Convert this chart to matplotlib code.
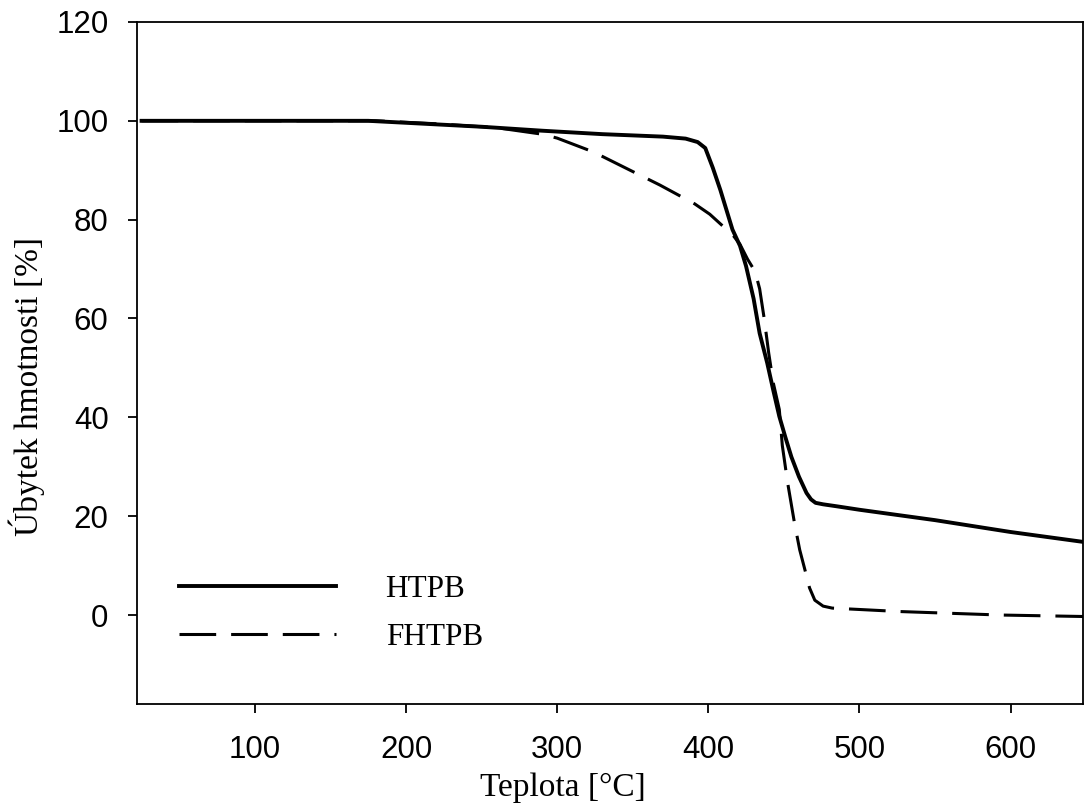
import numpy as np
import matplotlib
matplotlib.use('Agg')
from matplotlib import pyplot as plt

# TGA curves, temperature in degC vs. remaining mass in %
htpb_t = [25, 175, 200, 250, 290, 330, 370, 385, 393, 398, 403, 408, 412, 416, 421, 425, 430,
          434, 439, 443, 447, 451, 455, 460, 465, 468, 471, 476, 485, 500, 550, 600, 648]
htpb_m = [100, 100, 99.6, 98.8, 98.0, 97.3, 96.8, 96.4, 95.7, 94.5, 90.5, 86, 82, 78, 74.7, 70.6, 64,
          57, 51, 45.5, 40.2, 36, 32, 28, 24.7, 23.4, 22.7, 22.4, 22.0, 21.3, 19.2, 16.8, 14.8]

fhtpb_t = [25, 180, 220, 260, 290, 300, 324, 345, 368, 391, 401, 410, 416, 421, 426, 431, 434,
           437, 440, 443, 447, 449, 452.5, 457, 460.5, 464, 467, 470.5, 476, 482, 527, 593, 648]
fhtpb_m = [100, 100, 99.4, 98.6, 97.3, 96.5, 93.7, 90.5, 87, 83.2, 81.1, 78.6, 77, 75, 72, 69.5, 66,
           60, 53, 47, 41.6, 34.3, 26.8, 18.7, 13.2, 9.1, 5.5, 3.0, 1.8, 1.4, 0.7, 0.0, -0.3]

x_ticks = [100, 200, 300, 400, 500, 600]
y_ticks = [0, 20, 40, 60, 80, 100, 120]

fig = plt.figure(figsize=(10.85, 8.05), dpi=100)
ax = fig.add_axes([0.1263, 0.1255, 0.8719, 0.8472])

ax.plot(htpb_t, htpb_m, color='black', lw=2.8, solid_joinstyle='round', label='HTPB')
ax.plot(fhtpb_t, fhtpb_m, color='black', lw=2.2, dashes=(12, 4.9), label='FHTPB')

ax.set_xlim(22, 648)
ax.set_ylim(-18, 120)
ax.set_xticks(x_ticks)
ax.set_yticks(y_ticks)

for s in ax.spines.values():
    s.set_linewidth(1.3)
ax.tick_params(direction='out', length=6.5, width=1.3, labelsize=22.5)
ax.tick_params(axis='y', pad=14)
ax.tick_params(axis='x', pad=16)
for lbl in ax.get_xticklabels() + ax.get_yticklabels():
    lbl.set_family('Liberation Sans')

ax.set_xlabel('Teplota [°C]', family='Liberation Serif', fontsize=24)
ax.xaxis.set_label_coords(0.45, -0.1)
ax.set_ylabel('Úbytek hmotnosti [%]', family='Liberation Serif', fontsize=24)
ax.yaxis.set_label_coords(-0.097, 0.465)

leg = ax.legend(loc='lower left', bbox_to_anchor=(0.015, 0.035), frameon=False,
                prop={'family': 'Liberation Serif', 'size': 22.5},
                handlelength=5.0, handletextpad=1.6, labelspacing=0.6)

fig.savefig('out.png', dpi=100)
